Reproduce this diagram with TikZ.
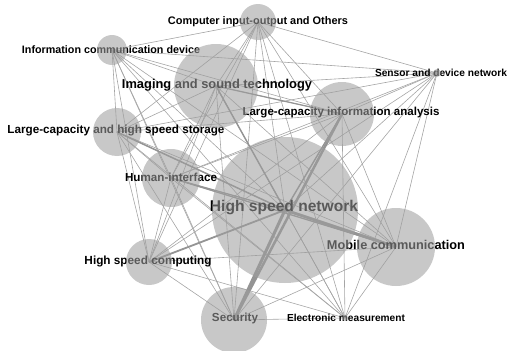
\documentclass[tikz,border=0pt]{standalone}
\usepackage{fontspec}
\setmainfont{Liberation Sans}
\usepackage{graphicx}
\definecolor{edgegray}{RGB}{165,165,165}
\definecolor{bubble}{RGB}{158,158,158}
\newcommand\lbl[2]{\resizebox{#1pt}{!}{\bfseries #2}}
\begin{document}
\begin{tikzpicture}[x=1pt,y=-1pt,
  edge/.style={draw=edgegray,line width=0.6pt},
  heavy/.style={draw=edgegray!90!black,line width=#1},
  bubblestyle/.style={circle,fill=bubble,fill opacity=0.57,draw=none,inner sep=0pt,minimum size=#1},
  lab/.style={inner sep=0pt,text=black}]
\useasboundingbox (0,0) rectangle (507,351);
% centres
\coordinate (n1) at (258,22);   % computer
\coordinate (n2) at (112,50);   % info comm
\coordinate (n3) at (216,86);   % imaging
\coordinate (n4) at (437,73);   % sensor
\coordinate (n5) at (342,114);  % lcia
\coordinate (n6) at (117,132);  % storage
\coordinate (n7) at (171,178);  % human
\coordinate (n8) at (285,210);  % hsn
\coordinate (n9) at (396,247);  % mobile
\coordinate (n10) at (149,262); % hsc
\coordinate (n11) at (234,320); % security
\coordinate (n12) at (345,318); % electronic
% edges
\foreach \i in {1,...,11}{
  \pgfmathtruncatemacro\s{\i+1}
  \foreach \j in {\s,...,12}{\draw[edge] (n\i) -- (n\j);}
}
\draw[heavy=3pt] (n8) -- (n11);
\draw[heavy=3pt] (n8) -- (n9);
\draw[heavy=2.5pt] (n5) -- (n11);
\draw[heavy=1.8pt] (n8) -- (n10);
\draw[heavy=1.5pt] (n8) -- (n6);
\draw[heavy=1.4pt] (n8) -- (n3);
\draw[heavy=1.4pt] (n8) -- (n5);
\draw[heavy=1.2pt] (n8) -- (n7);
\draw[heavy=1.2pt] (n7) -- (n9);
\draw[heavy=1.2pt] (n3) -- (n5);
% labels
\node[lab] (t1) at (258,22) {\lbl{180}{Computer input-output and Others}};
\node[lab] (t2) at (111,50) {\lbl{178}{Information communication device}};
\node[lab] (t3) at (217,85) {\lbl{190}{Imaging and sound technology}};
\node[lab] (t4) at (441,73) {\lbl{132}{Sensor and device network}};
\node[lab] (t5) at (341,113) {\lbl{197}{Large-capacity information analysis}};
\node[lab] (t6) at (116,131) {\lbl{217}{Large-capacity and high speed storage}};
\node[lab] (t7) at (171,177) {\lbl{92}{Human-interface}};
\node[lab] (t8) at (284,208) {\lbl{148}{High speed network}};
\node[lab] (t9) at (396,245) {\lbl{138}{Mobile communication}};
\node[lab] (t10) at (148,261) {\lbl{127}{High speed computing}};
\node[lab] (t11) at (235,318) {\lbl{46}{Security}};
\node[lab] (t12) at (346,318) {\lbl{118}{Electronic measurement}};
% bubbles
\node[bubblestyle=36pt] (b1) at (n1) {};
\node[bubblestyle=30pt] (b2) at (n2) {};
\node[bubblestyle=84pt] (b3) at (n3) {};
\node[bubblestyle=8pt] (b4) at (n4) {};
\node[bubblestyle=64pt] (b5) at (n5) {};
\node[bubblestyle=48pt] (b6) at (n6) {};
\node[bubblestyle=58pt] (b7) at (n7) {};
\node[bubblestyle=146pt] (b8) at (n8) {};
\node[bubblestyle=78pt] (b9) at (n9) {};
\node[bubblestyle=46pt] (b10) at (n10) {};
\node[bubblestyle=66pt] (b11) at (n11) {};
\node[bubblestyle=6pt] (b12) at (n12) {};
\end{tikzpicture}
\end{document}
